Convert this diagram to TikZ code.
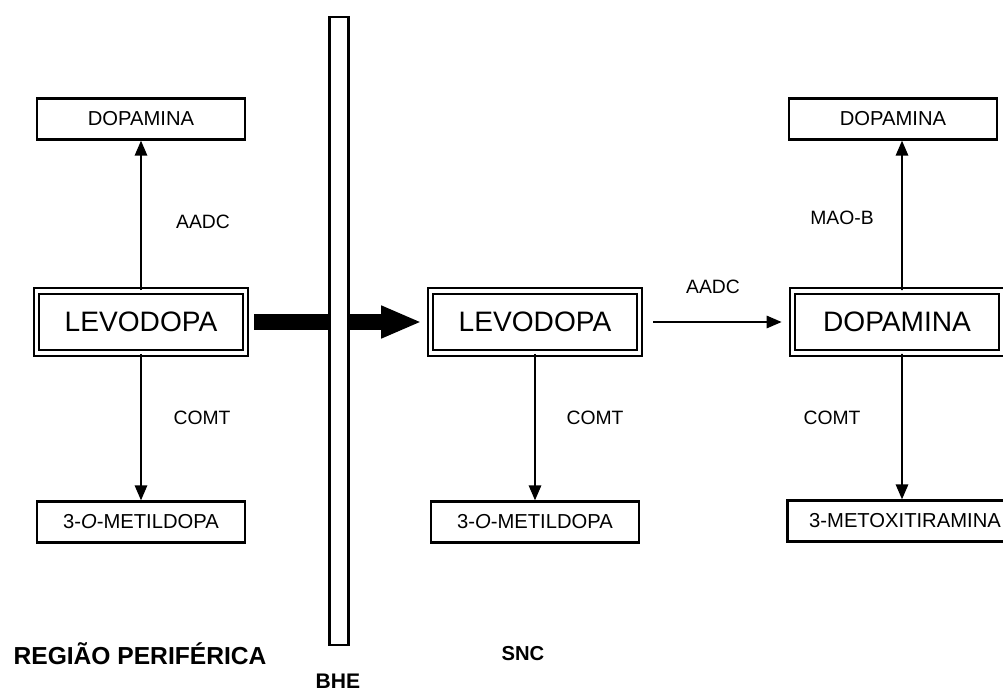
\documentclass[tikz,border=0pt]{standalone}
\usepackage{fontspec}
\setmainfont{Liberation Sans}
\usetikzlibrary{arrows.meta}

\tikzset{
  caixa/.style={draw, line width=1.3pt, minimum width=4.15cm, minimum height=0.82cm, inner sep=0pt, font=\fontsize{11.5}{13}\selectfont},
  caixadupla/.style={draw, line width=1pt, double, double distance=2.2pt, minimum width=4.18cm, minimum height=1.24cm, inner sep=0pt, font=\fontsize{16}{18}\selectfont},
  seta/.style={line width=1.1pt, -{Triangle[length=8.5pt,width=7pt]}},
  enzima/.style={font=\fontsize{11}{13}\selectfont},
  regiao/.style={font=\bfseries\fontsize{14}{16}\selectfont},
}

\begin{document}
\begin{tikzpicture}[x=0.02cm, y=-0.02cm]
    \useasboundingbox (0,0) rectangle (1003,693);

    % periferia
    \node[caixa] (dopaE) at (141,119) {DOPAMINA};
    \node[caixadupla] (levE) at (141,322) {LEVODOPA};
    \node[caixa] (omdE) at (141,522) {3-\textit{O}-METILDOPA};

    % SNC
    \node[caixadupla] (levC) at (535,322) {LEVODOPA};
    \node[caixa] (omdC) at (535,522) {3-\textit{O}-METILDOPA};
    \node[caixadupla] (dopaC) at (897,322) {DOPAMINA};
    \node[caixa] (dopaD) at (893,119) {DOPAMINA};
    \node[caixa, minimum width=4.7cm] (mtx) at (905,521) {3-METOXITIRAMINA};

    \draw[seta] (levE) -- (dopaE);
    \draw[seta] (levE) -- (omdE);
    \draw[seta] (levC) -- (omdC);
    \draw[seta] ([xshift=0.26cm]levC.east) -- ([xshift=-0.2cm]dopaC.west);
    \draw[seta] ([xshift=0.1cm]dopaC.north) -- ([xshift=0.18cm]dopaD.south);
    \draw[seta] ([xshift=0.1cm]dopaC.south) -- ([xshift=-0.06cm]mtx.north);

    \node[enzima] at (203,222) {AADC};
    \node[enzima] at (202,418) {COMT};
    \node[enzima] at (595,418) {COMT};
    \node[enzima] at (713,287) {AADC};
    \node[enzima] at (842,218) {MAO-B};
    \node[enzima] at (832,418) {COMT};

    % passagem pela barreira
    \draw[line width=9pt, -{Triangle[length=23pt,width=17pt]}] ([xshift=0.16cm]levE.east) -- ([xshift=-0.16cm]levC.west);
    \node[draw, line width=1.3pt, fill=white, minimum width=0.38cm, minimum height=12.56cm, inner sep=0pt] (bhe) at (339,331) {};

    \node[regiao] at (140,654) {REGIÃO PERIFÉRICA};
    \node[regiao, font=\bfseries\fontsize{11.5}{14}\selectfont] at (523,654) {SNC};
    \node[regiao, font=\bfseries\fontsize{12}{14}\selectfont] at (338,681) {BHE};
\end{tikzpicture}
\end{document}
